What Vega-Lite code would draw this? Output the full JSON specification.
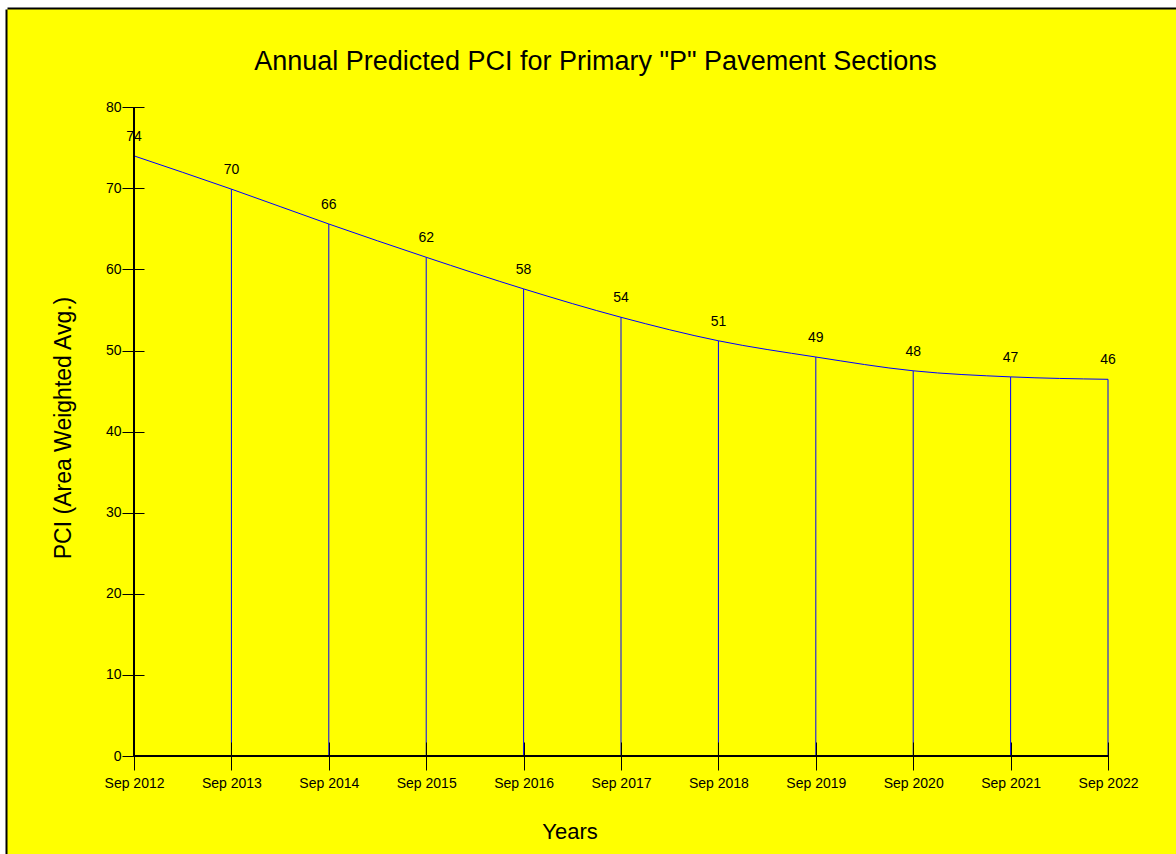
{
  "$schema": "https://vega.github.io/schema/vega-lite/v6.json",
  "autosize": {"type": "none"},
  "width": 1169,
  "height": 845,
  "padding": {"left": 7, "top": 9, "right": 0, "bottom": 0},
  "background": "#ffffff",
  "config": {
    "view": {"fill": "#ffff00", "stroke": null},
    "font": "Liberation Sans, Arial, sans-serif"
  },
  "title": {
    "text": "Annual Predicted PCI for Primary \"P\" Pavement Sections",
    "font": "Liberation Sans, Arial, sans-serif",
    "fontSize": 27,
    "fontWeight": "normal",
    "color": "#000000",
    "anchor": "middle",
    "frame": "group",
    "baseline": "alphabetic",
    "offset": -89,
    "dx": 4
  },
  "data": {
    "values": [
      {"year": 2012, "pci": 74.0, "label": "74"},
      {"year": 2013, "pci": 69.9, "label": "70"},
      {"year": 2014, "pci": 65.6, "label": "66"},
      {"year": 2015, "pci": 61.5, "label": "62"},
      {"year": 2016, "pci": 57.6, "label": "58"},
      {"year": 2017, "pci": 54.1, "label": "54"},
      {"year": 2018, "pci": 51.2, "label": "51"},
      {"year": 2019, "pci": 49.2, "label": "49"},
      {"year": 2020, "pci": 47.5, "label": "48"},
      {"year": 2021, "pci": 46.75, "label": "47"},
      {"year": 2022, "pci": 46.45, "label": "46"}
    ]
  },
  "resolve": {"axis": {"x": "independent", "y": "independent"}},
  "layer": [
    {
      "mark": {"type": "rule", "color": "#0000ff", "strokeWidth": 1},
      "encoding": {
        "x": {
          "field": "year", "type": "quantitative",
          "scale": {"domain": [2010.696, 2022.698], "nice": false, "zero": false},
          "axis": {"orient": "top", "offset": 1, "domain": true, "domainColor": "#000000", "domainWidth": 2, "ticks": false, "labels": false, "grid": false, "title": null}
        },
        "y": {
          "field": "pci", "type": "quantitative",
          "scale": {"domain": [-12.08, 92.11], "nice": false, "zero": false},
          "axis": {"orient": "left", "offset": 1, "domain": true, "domainColor": "#000000", "domainWidth": 2, "ticks": false, "labels": false, "grid": false, "title": null}
        },
        "y2": {"datum": 0}
      }
    },
    {
      "mark": {"type": "line", "color": "#0000ff", "strokeWidth": 1, "interpolate": "monotone"},
      "encoding": {
        "x": {
          "field": "year", "type": "quantitative",
          "scale": {"domain": [2010.696, 2022.698], "nice": false, "zero": false},
          "axis": {
            "orient": "bottom", "offset": -112,
            "values": [2012, 2013, 2014, 2015, 2016, 2017, 2018, 2019, 2020, 2021, 2022],
            "labelExpr": "'Sep ' + datum.value",
            "domain": false, "grid": false,
            "ticks": true, "tickSize": 28, "tickColor": "#000000", "tickWidth": 1,
            "labelFont": "Liberation Sans, Arial, sans-serif",
            "labelFontSize": 14, "labelColor": "#000000", "labelPadding": 17,
            "labelBaseline": "alphabetic", "labelAngle": 0, "labelFlush": false, "labelOverlap": false,
            "title": "Years",
            "titleFont": "Liberation Sans, Arial, sans-serif",
            "titleFontSize": 22, "titleFontWeight": "normal", "titleColor": "#000000",
            "titleX": 562.5, "titleY": 96, "titleAlign": "center", "titleBaseline": "alphabetic",
            "zindex": 1
          }
        },
        "y": {
          "field": "pci", "type": "quantitative",
          "scale": {"domain": [-12.08, 92.11], "nice": false, "zero": false},
          "axis": {
            "orient": "left", "offset": -137,
            "values": [0, 10, 20, 30, 40, 50, 60, 70, 80],
            "domain": false, "grid": false,
            "ticks": true, "tickSize": 22, "tickColor": "#000000", "tickWidth": 1,
            "labelFont": "Liberation Sans, Arial, sans-serif",
            "labelFontSize": 14, "labelColor": "#000000", "labelPadding": 1,
            "labelFlush": false, "labelOverlap": false,
            "title": "PCI (Area Weighted Avg.)",
            "titleFont": "Liberation Sans, Arial, sans-serif",
            "titleFontSize": 23, "titleFontWeight": "normal", "titleColor": "#000000",
            "titleX": -74, "titleY": 418.5, "titleAngle": -90, "titleAlign": "center", "titleBaseline": "alphabetic",
            "zindex": 1
          }
        }
      }
    },
    {
      "mark": {"type": "text", "fontSize": 14, "font": "Liberation Sans, Arial, sans-serif", "color": "#000000", "align": "center", "baseline": "alphabetic", "dy": -15},
      "encoding": {
        "x": {"field": "year", "type": "quantitative", "scale": {"domain": [2010.696, 2022.698], "nice": false, "zero": false}, "axis": null},
        "y": {"field": "pci", "type": "quantitative", "scale": {"domain": [-12.08, 92.11], "nice": false, "zero": false}, "axis": null},
        "text": {"field": "label"}
      }
    },
    {
      "mark": {"type": "rule", "color": "#000000", "strokeWidth": 1.3},
      "encoding": {
        "x": {"datum": 2012, "type": "quantitative", "axis": null},
        "y": {"datum": 0, "type": "quantitative", "axis": null},
        "y2": {"datum": 80}
      }
    },
    {
      "mark": {"type": "rule", "color": "#000000", "strokeWidth": 1.3},
      "encoding": {
        "x": {"datum": 2012, "type": "quantitative", "axis": null},
        "x2": {"datum": 2022},
        "y": {"datum": 0, "type": "quantitative", "axis": null}
      }
    }
  ]
}
